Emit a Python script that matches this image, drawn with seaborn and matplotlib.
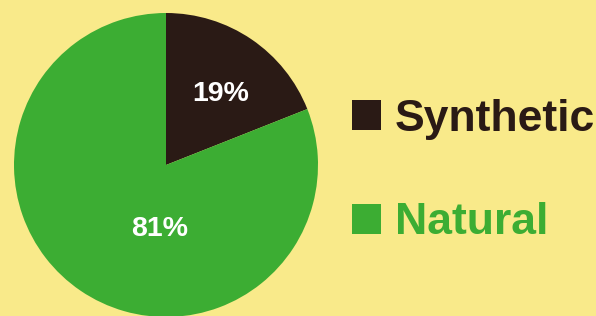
import matplotlib
matplotlib.use("Agg")
import matplotlib.pyplot as plt
import seaborn as sns

categories = ["Synthetic", "Natural"]
shares = [19, 81]
colors = ["#2a1a15", "#3cad33"]
bg = "#f9ea8a"

sns.set_theme(style="white")
plt.rcParams["font.family"] = ["Liberation Sans", "DejaVu Sans"]

W, H = 596, 316
fig = plt.figure(figsize=(W / 100, H / 100), dpi=100)
fig.patch.set_facecolor(bg)

cx, cy, r = 166, 165, 152
ax = fig.add_axes([(cx - r) / W, (H - cy - r) / H, 2 * r / W, 2 * r / H])
ax.set_facecolor("none")

wedges, texts, autotexts = ax.pie(
    shares, colors=colors, startangle=90, counterclock=False,
    autopct=lambda p: f"{p:.0f}%", pctdistance=0.6,
    textprops=dict(color="white", fontsize=20.5, fontweight="bold"),
    wedgeprops=dict(linewidth=0),
)
ax.set_xlim(-1, 1)
ax.set_ylim(-1, 1)
ax.set_aspect("equal")
autotexts[1].set_position((-0.04, -0.42))
autotexts[0].set_position((0.36, 0.47))

leg = fig.legend(
    wedges, categories, loc="upper left",
    bbox_to_anchor=(352 / W, 1 - 99 / H),
    frameon=False, borderpad=0, borderaxespad=0,
    handlelength=0.66, handleheight=0.66, handletextpad=0.3,
    labelspacing=1.4,
    prop=dict(family="Liberation Sans", weight="bold", size=32),
)
for t, c in zip(leg.get_texts(), colors):
    t.set_color(c)

fig.savefig("out.png", dpi=100, facecolor=bg)
